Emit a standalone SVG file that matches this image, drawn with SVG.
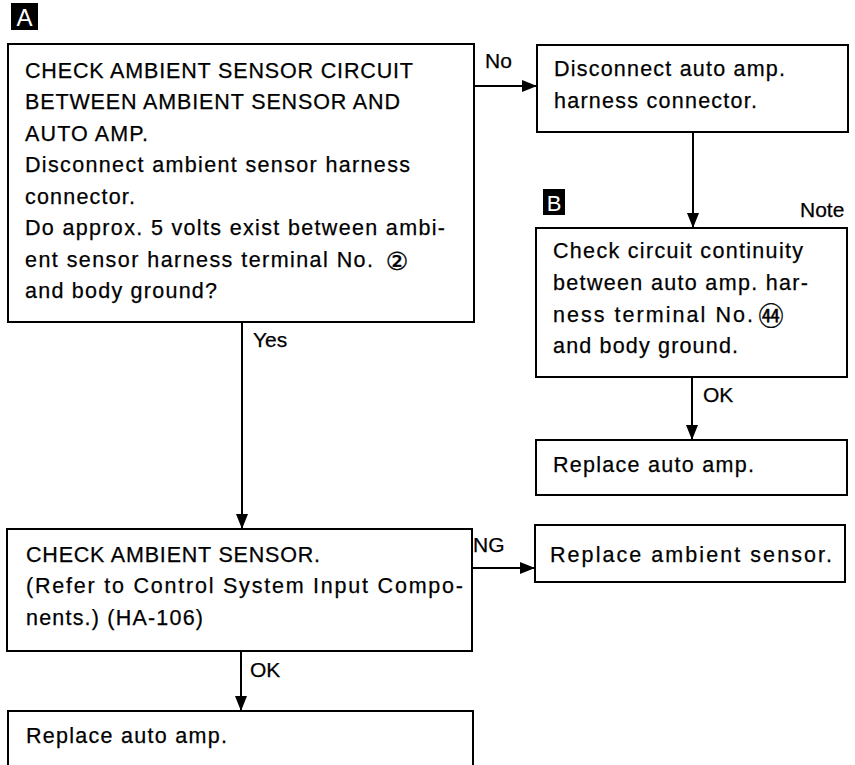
<svg xmlns="http://www.w3.org/2000/svg" width="855" height="765" viewBox="0 0 855 765">
<style>
.box{fill:#fff;stroke:#000;stroke-width:2}
.t{font-family:"Liberation Sans","DejaVu Sans",Arial,sans-serif;font-size:21.5px;fill:#000;stroke:#000;stroke-width:0.25}
.l{font-family:"Liberation Sans","DejaVu Sans",Arial,sans-serif;font-size:21px;fill:#000;stroke:#000;stroke-width:0.25}
.c{font-family:"DejaVu Sans","Noto Sans CJK JP",sans-serif;font-size:25px;fill:#000;stroke:#000;stroke-width:0.4}
.tag{fill:#000}
.tagt{font-family:"Liberation Sans",Arial,sans-serif;font-size:24px;fill:#fff;text-anchor:middle}
.ln{stroke:#000;stroke-width:2;fill:none}
</style>
<defs>
<marker id="ah" markerUnits="userSpaceOnUse" markerWidth="16" markerHeight="12" refX="15" refY="6" orient="auto">
<path d="M0,0 L15,6 L0,12 Z" fill="#000"/>
</marker>
</defs>
<g id="tagA"><rect class="tag" x="11" y="3" width="27" height="27"/><text class="tagt" x="24.5" y="26">A</text></g>
<g id="tagB"><rect class="tag" x="543" y="189" width="22" height="26"/><text class="tagt" x="554" y="211" style="font-size:22px">B</text></g>
<g id="n1">
<rect class="box" x="8" y="44" width="466" height="278"/>
<text class="t" x="25" y="78" textLength="388" lengthAdjust="spacing">CHECK AMBIENT SENSOR CIRCUIT</text>
<text class="t" x="25" y="109" textLength="375" lengthAdjust="spacing">BETWEEN AMBIENT SENSOR AND</text>
<text class="t" x="25" y="141" textLength="123" lengthAdjust="spacing">AUTO AMP.</text>
<text class="t" x="25" y="172" textLength="385" lengthAdjust="spacing">Disconnect ambient sensor harness</text>
<text class="t" x="25" y="204" textLength="110" lengthAdjust="spacing">connector.</text>
<text class="t" x="25" y="235" textLength="420" lengthAdjust="spacing">Do approx. 5 volts exist between ambi-</text>
<text class="t" x="25" y="267" textLength="348" lengthAdjust="spacing">ent sensor harness terminal No.</text>
<text class="c" x="397" y="270" text-anchor="middle">②</text>
<text class="t" x="25" y="298" textLength="192" lengthAdjust="spacing">and body ground?</text>
</g>
<g id="n2">
<rect class="box" x="537" y="45" width="311" height="87"/>
<text class="t" x="554" y="76" textLength="231" lengthAdjust="spacing">Disconnect auto amp.</text>
<text class="t" x="554" y="108" textLength="203" lengthAdjust="spacing">harness connector.</text>
</g>
<g id="n3">
<rect class="box" x="536" y="228" width="311" height="149"/>
<text class="t" x="553" y="258" textLength="250" lengthAdjust="spacing">Check circuit continuity</text>
<text class="t" x="553" y="290" textLength="255" lengthAdjust="spacing">between auto amp. har-</text>
<text class="t" x="553" y="322" textLength="200" lengthAdjust="spacing">ness terminal No.</text>
<text class="c" x="771" y="325" text-anchor="middle">㊹</text>
<text class="t" x="553" y="353" textLength="185" lengthAdjust="spacing">and body ground.</text>
</g>
<g id="n4">
<rect class="box" x="536" y="440" width="311" height="55"/>
<text class="t" x="553" y="472" textLength="201" lengthAdjust="spacing">Replace auto amp.</text>
</g>
<g id="n5">
<rect class="box" x="7" y="529" width="465" height="122"/>
<text class="t" x="26" y="562" textLength="294" lengthAdjust="spacing">CHECK AMBIENT SENSOR.</text>
<text class="t" x="26" y="593" textLength="437" lengthAdjust="spacing">(Refer to Control System Input Compo-</text>
<text class="t" x="26" y="625" textLength="177" lengthAdjust="spacing">nents.) (HA-106)</text>
</g>
<g id="n6">
<rect class="box" x="535" y="525" width="310" height="57"/>
<text class="t" x="550" y="562" textLength="282" lengthAdjust="spacing">Replace ambient sensor.</text>
</g>
<g id="n7">
<rect class="box" x="8" y="711" width="465" height="70"/>
<text class="t" x="26" y="743" textLength="201" lengthAdjust="spacing">Replace auto amp.</text>
</g>
<g id="connectors">
<line class="ln" x1="474" y1="86" x2="537" y2="86" marker-end="url(#ah)"/>
<line class="ln" x1="693" y1="132" x2="693" y2="228" marker-end="url(#ah)"/>
<line class="ln" x1="692" y1="377" x2="692" y2="440" marker-end="url(#ah)"/>
<line class="ln" x1="242" y1="322" x2="242" y2="529" marker-end="url(#ah)"/>
<line class="ln" x1="472" y1="568" x2="535" y2="568" marker-end="url(#ah)"/>
<line class="ln" x1="241" y1="651" x2="241" y2="711" marker-end="url(#ah)"/>
</g>
<g id="labels">
<text class="l" x="485" y="68">No</text>
<text class="l" x="800" y="217">Note</text>
<text class="l" x="703" y="402">OK</text>
<text class="l" x="253" y="347">Yes</text>
<text class="l" x="473" y="552">NG</text>
<text class="l" x="250" y="677">OK</text>
</g>
</svg>
